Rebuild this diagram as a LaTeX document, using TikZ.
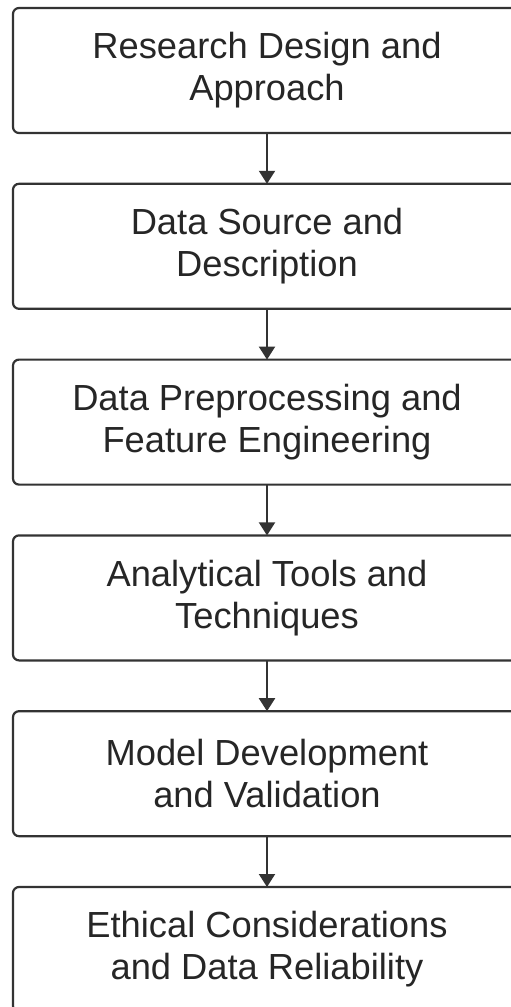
\documentclass[tikz,border=0pt]{standalone}
\usepackage{fontspec}
\setmainfont{Liberation Sans}
\usetikzlibrary{arrows.meta, positioning}

\begin{document}
\begin{tikzpicture}[
      x=1pt, y=1pt,
      node distance=50.8pt,
      step box/.style={rectangle, draw=black!80, line width=2.2pt, rounded corners=6pt, fill=white, minimum width=508pt, minimum height=125pt, outer sep=0pt, align=center, font=\fontsize{36.3}{42}\selectfont, text=black!85},
      arrow/.style={-{Triangle[width=16pt, length=13pt]}, line width=2pt, draw=black!80}
    ]
    \useasboundingbox (0,0) rectangle (511,-1007);

    \node[step box] (design) at (267,-70.5) {Research Design and\\Approach};
    \node[step box, below=of design] (source) {Data Source and\\Description};
    \node[step box, below=of source] (prep) {Data Preprocessing and\\Feature Engineering};
    \node[step box, below=of prep] (tools) {Analytical Tools and\\Techniques};
    \node[step box, below=of tools] (model) {Model Development\\and Validation};
    \node[step box, below=of model] (ethics) {Ethical Considerations\\and Data Reliability};

    \draw[arrow] (design) -- (source);
    \draw[arrow] (source) -- (prep);
    \draw[arrow] (prep) -- (tools);
    \draw[arrow] (tools) -- (model);
    \draw[arrow] (model) -- (ethics);
  \end{tikzpicture}
\end{document}
